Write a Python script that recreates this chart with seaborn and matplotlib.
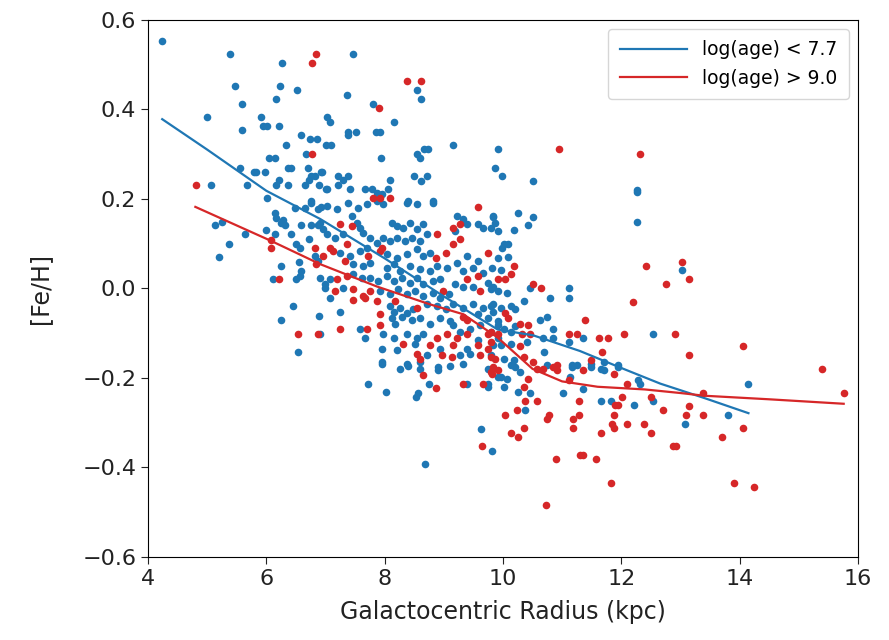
import numpy as np
import pandas as pd
import matplotlib
matplotlib.use("Agg")
import matplotlib.pyplot as plt
import seaborn as sns

# ---- young population (log(age) < 7.7) scatter ----
young_r = [4.24,5.39,6.27,5.47,6.23,6.52,5.59,6.17,5.00,5.91,5.95,6.01,6.22,5.59,6.59,6.74,6.86,6.34,7.01,6.67,
           6.05,6.15,5.56,6.37,6.42,6.71,5.79,5.83,5.98,6.93,6.76,6.83,6.72,6.22,5.07,5.68,6.17,6.37,6.66,6.89,
           7.01,6.01,6.76,
           7.47,8.55,8.62,7.37,7.81,7.03,7.08,8.16,7.38,7.52,7.38,7.86,7.93,7.10,9.16,9.92,7.94,8.55,8.67,8.74,8.60,
           9.87,6.94,7.21,7.38,7.30,8.09,8.50,8.72,8.62,7.21,7.03,7.42,7.67,7.79,7.87,7.96,8.06,8.40,8.82,
           9.99,10.51,12.27,
           5.13,5.25,5.37,5.20,5.64,6.00,6.15,6.15,6.17,6.25,6.32,6.28,6.49,6.66,6.76,6.88,6.93,6.59,6.76,6.88,6.96,
           6.42,6.50,6.57,6.72,6.83,6.88,6.56,6.25,6.59,6.57,6.50,6.12,6.99,6.45,6.89,6.25,6.54,
           7.03,7.20,7.38,7.55,7.71,7.87,7.98,8.38,8.55,8.81,9.23,9.33,9.84,7.45,7.54,7.59,7.64,8.13,8.21,8.31,8.43,
           8.55,8.65,6.91,9.40,9.57,9.67,9.19,9.91,7.03,7.16,7.30,7.76,7.87,7.98,8.09,8.21,8.35,8.47,8.60,8.72,9.79,
           7.25,7.42,7.59,7.71,8.04,8.21,8.38,8.55,8.65,8.77,9.40,9.57,9.91,7.47,7.64,7.76,8.04,8.15,8.26,8.43,8.60,
           8.77,8.89,9.06,9.23,9.33,9.50,9.67,9.82,6.91,7.08,7.47,7.62,7.76,7.89,8.04,8.15,8.30,8.43,8.55,8.65,8.82,
           8.94,9.19,9.33,9.50,9.74,9.84,6.99,7.30,7.93,8.09,8.23,8.38,8.52,8.65,8.81,8.94,9.08,7.08,8.09,8.15,8.26,
           8.38,8.48,8.72,8.89,9.03,9.16,9.33,9.50,9.67,9.84,9.57,9.74,9.84,9.91,7.25,8.13,8.18,8.30,8.47,8.60,8.77,
           8.94,9.11,9.16,9.28,9.45,9.62,9.79,7.59,7.98,8.15,8.38,8.55,8.65,9.57,9.91,7.67,6.91,8.52,8.94,9.40,9.84,
           7.96,8.21,8.72,9.28,9.45,7.96,8.38,8.60,8.91,9.33,8.26,
           12.27,12.27,10.26,10.51,10.43,10.19,9.84,9.87,10.01,10.09,9.99,10.09,9.96,10.45,11.11,11.12,10.80,9.79,
           9.92,10.07,10.36,9.79,9.96,10.13,10.21,10.63,10.75,9.91,10.01,10.13,10.21,10.85,12.53,10.68,10.85,11.36,
           11.11,9.96,10.13,10.41,10.70,9.79,10.01,10.18,10.75,11.17,11.26,11.48,11.70,11.94,
           13.02,
           7.96,8.40,8.60,8.91,9.11,8.75,7.72,8.03,8.53,8.57,9.40,9.74,9.75,9.74,9.91,9.63,9.82,8.69,
           9.96,10.07,10.01,10.26,10.13,10.21,10.29,10.46,11.17,11.14,11.48,11.65,11.70,11.94,11.36,11.02,12.29,
           12.32,10.38,11.65,11.83,12.21,12.53,
           14.15,13.07,13.80]
young_feh = [0.553,0.524,0.503,0.452,0.452,0.443,0.413,0.422,0.382,0.382,0.362,0.362,0.362,0.353,0.342,0.333,0.333,
             0.321,0.321,0.301,0.292,0.292,0.270,0.270,0.270,0.270,0.261,0.261,0.261,0.261,0.252,0.252,0.243,0.243,
             0.231,0.231,0.231,0.231,0.231,0.231,0.222,0.202,0.195,
             0.524,0.443,0.422,0.431,0.413,0.382,0.371,0.371,0.350,0.350,0.342,0.350,0.350,0.321,0.321,0.312,0.292,
             0.301,0.312,0.312,0.292,0.270,0.261,0.252,0.252,0.243,0.243,0.252,0.252,0.240,0.231,0.222,0.222,0.222,
             0.222,0.213,0.211,0.222,0.195,0.195,
             0.252,0.240,0.220,
             0.142,0.148,0.099,0.070,0.121,0.130,0.121,0.169,0.157,0.146,0.142,0.153,0.180,0.180,0.191,0.178,0.182,
             0.142,0.142,0.142,0.133,0.121,0.099,0.090,0.110,0.072,0.061,0.058,0.049,0.038,0.027,0.020,0.020,0.009,
             -0.040,-0.061,-0.070,-0.142,
             0.184,0.178,0.191,0.180,0.189,0.196,0.189,0.191,0.189,0.191,0.162,0.155,0.162,0.162,0.146,0.135,0.124,
             0.146,0.139,0.135,0.146,0.133,0.144,0.146,0.144,0.144,0.135,0.128,0.128,0.121,0.112,0.121,0.112,0.101,
             0.112,0.106,0.112,0.106,0.112,0.106,0.121,0.135,
             0.079,0.072,0.083,0.090,0.076,0.067,0.076,0.088,0.072,0.079,0.072,0.061,0.067,0.054,0.049,0.056,0.045,
             0.054,0.038,0.049,0.043,0.038,0.049,0.045,0.056,0.038,0.045,0.034,0.045,0.022,0.020,0.031,0.022,0.022,
             0.016,0.027,0.016,0.022,0.011,0.022,0.009,0.016,0.020,0.009,0.004,0.004,0.011,0.004,0.000,0.000,-0.007,
             -0.013,-0.002,-0.013,-0.007,-0.018,-0.011,-0.022,-0.013,-0.022,-0.040,-0.052,-0.045,-0.056,-0.047,
             -0.036,-0.040,-0.047,-0.036,-0.045,-0.036,-0.045,-0.036,-0.058,-0.067,-0.052,-0.074,-0.052,-0.067,
             -0.079,-0.063,-0.070,-0.067,-0.079,-0.067,-0.074,-0.081,-0.097,-0.090,-0.081,-0.097,-0.090,-0.103,
             -0.112,-0.101,-0.112,-0.103,-0.115,-0.112,-0.112,-0.103,-0.124,-0.135,-0.135,-0.126,-0.135,-0.137,
             -0.148,-0.148,-0.146,-0.169,-0.169,-0.164,-0.175,-0.169,-0.180,
             0.216,0.148,0.169,0.160,0.142,0.130,0.160,0.146,0.099,0.099,0.090,0.070,0.040,0.000,0.000,-0.022,-0.022,
             -0.002,-0.007,-0.011,-0.029,-0.040,-0.045,-0.040,-0.047,-0.070,-0.063,-0.081,-0.090,-0.097,-0.085,
             -0.090,-0.103,-0.112,-0.112,-0.112,-0.119,-0.126,-0.124,-0.119,-0.142,-0.148,-0.157,-0.160,-0.171,
             -0.171,-0.171,-0.169,-0.164,-0.171,
             0.040,
             -0.164,-0.173,-0.180,-0.182,-0.173,-0.213,-0.213,-0.231,-0.243,-0.234,-0.213,-0.220,-0.213,-0.180,
             -0.198,-0.315,-0.364,-0.393,
             -0.198,-0.202,-0.220,-0.231,-0.171,-0.175,-0.187,-0.234,-0.175,-0.198,-0.175,-0.180,-0.182,-0.175,
             -0.225,-0.234,-0.204,-0.213,-0.272,-0.252,-0.252,-0.261,-0.252,
             -0.213,-0.303,-0.283]

# ---- old population (log(age) > 9.0) scatter ----
old_r = [6.84,6.77,6.77,4.81,8.38,8.62,7.91,8.09,10.94,12.31,
         6.08,6.08,6.83,6.96,6.84,6.22,6.54,6.88,
         7.81,7.93,9.57,7.25,7.45,9.16,9.28,8.89,9.28,9.16,7.08,7.13,7.37,7.96,7.93,9.03,9.75,7.33,7.72,8.86,
         9.40,9.57,7.20,7.37,8.99,9.62,7.16,7.47,7.64,7.76,8.55,7.47,7.67,7.87,8.18,9.33,9.40,7.93,7.25,7.71,
         7.93,8.89,9.06,9.23,9.40,9.74,8.31,8.77,9.16,9.57,9.74,8.55,8.60,8.97,9.14,9.62,9.79,9.87,9.84,
         10.18,9.91,10.04,10.13,12.41,12.76,10.50,10.65,12.19,10.04,10.09,10.29,10.43,9.79,9.91,11.39,12.04,
         10.33,10.46,11.11,11.26,11.63,11.77,9.79,10.29,11.68,10.35,10.51,10.92,11.48,
         13.02,13.14,12.90,13.15,14.05,15.39,
         8.65,8.86,9.33,9.67,9.82,9.91,9.65,
         9.79,10.35,10.43,10.58,10.68,10.85,10.92,11.11,11.36,11.87,12.10,10.04,10.24,10.38,10.58,11.28,11.90,
         11.94,12.02,12.51,12.71,10.13,10.26,10.36,10.75,10.77,11.19,11.19,11.29,11.65,11.87,11.85,11.88,12.09,
         12.39,12.51,12.87,10.89,11.31,11.36,11.58,11.83,10.72,
         15.76,13.39,13.14,13.09,13.39,14.05,13.70,12.92,13.90,14.24]
old_feh = [0.524,0.503,0.301,0.231,0.463,0.463,0.402,0.202,0.312,0.301,
           0.108,0.090,0.090,0.072,0.054,0.020,-0.103,-0.103,
           0.202,0.202,0.182,0.144,0.139,0.135,0.144,0.121,0.110,0.099,0.090,0.083,0.099,0.090,0.083,0.079,0.079,
           0.061,0.072,0.067,0.020,0.027,0.020,0.027,-0.007,-0.007,-0.007,-0.002,-0.018,-0.007,-0.045,-0.025,
           -0.022,-0.029,-0.029,-0.063,-0.070,-0.058,-0.090,-0.090,-0.081,-0.112,-0.103,-0.112,-0.103,-0.103,
           -0.124,-0.126,-0.126,-0.126,-0.135,-0.146,-0.157,-0.148,-0.153,-0.148,-0.153,-0.157,-0.175,
           0.049,0.020,0.020,0.031,0.049,0.009,0.009,0.000,-0.031,-0.056,-0.067,-0.079,-0.081,-0.097,-0.103,
           -0.070,-0.103,-0.101,-0.103,-0.103,-0.103,-0.112,-0.112,-0.119,-0.130,-0.142,-0.153,-0.164,-0.171,
           -0.160,
           0.058,0.020,-0.103,-0.150,-0.130,-0.180,
           -0.193,-0.222,-0.213,-0.213,-0.191,-0.182,-0.353,
           -0.187,-0.220,-0.202,-0.180,-0.180,-0.175,-0.182,-0.204,-0.182,-0.191,-0.213,-0.283,-0.272,-0.252,
           -0.252,-0.252,-0.261,-0.261,-0.243,-0.243,-0.272,-0.324,-0.333,-0.312,-0.292,-0.283,-0.292,-0.312,
           -0.283,-0.324,-0.283,-0.303,-0.312,-0.303,-0.303,-0.324,-0.353,-0.382,-0.373,-0.373,-0.382,-0.434,
           -0.485,
           -0.233,-0.233,-0.263,-0.283,-0.283,-0.312,-0.333,-0.353,-0.434,-0.445]

# ---- running-mean trend lines ----
young_line_r = [4.24, 5.0, 6.0, 6.91, 8.0, 9.0, 9.91, 10.51, 11.3, 12.0, 12.66, 13.4, 14.15]
young_line_feh = [0.378, 0.31, 0.218, 0.155, 0.067, -0.018, -0.092, -0.105, -0.14, -0.178, -0.213, -0.245, -0.279]
old_line_r = [4.8, 6.08, 6.91, 7.87, 8.77, 9.33, 9.91, 10.5, 11.0, 11.6, 12.4, 13.0, 13.4, 14.5, 15.76]
old_line_feh = [0.182, 0.106, 0.054, 0.004, -0.036, -0.058, -0.11, -0.18, -0.208, -0.22, -0.226, -0.234, -0.24, -0.248, -0.258]

labels = ["log(age) < 7.7", "log(age) > 9.0"]
x_ticks = [4, 6, 8, 10, 12, 14, 16]
y_ticks = [-0.6, -0.4, -0.2, 0.0, 0.2, 0.4, 0.6]

BLUE = "#1f77b4"
RED = "#d62728"

young = pd.DataFrame({"R": young_r, "FeH": young_feh})
old = pd.DataFrame({"R": old_r, "FeH": old_feh})
young_line = pd.DataFrame({"R": young_line_r, "FeH": young_line_feh})
old_line = pd.DataFrame({"R": old_line_r, "FeH": old_line_feh})

plt.rcParams["font.family"] = ["DejaVu Sans"]
fig = plt.figure(figsize=(8.89, 6.4), dpi=100)
ax = fig.add_axes([0.1665, 0.130, 0.7985, 0.839])

sns.scatterplot(data=young, x="R", y="FeH", color=BLUE, s=30, linewidth=0, ax=ax, legend=False, zorder=2)
sns.scatterplot(data=old, x="R", y="FeH", color=RED, s=30, linewidth=0, ax=ax, legend=False, zorder=2)
sns.lineplot(data=young_line, x="R", y="FeH", color=BLUE, linewidth=1.6, ax=ax, label=labels[0], zorder=3)
sns.lineplot(data=old_line, x="R", y="FeH", color=RED, linewidth=1.6, ax=ax, label=labels[1], zorder=3)

ax.set_xlim(4, 16)
ax.set_ylim(-0.6, 0.6)
ax.set_xticks(x_ticks)
ax.set_yticks(y_ticks)
ax.set_xticklabels([str(t) for t in x_ticks])
ax.set_yticklabels(["\u22120.6", "\u22120.4", "\u22120.2", "0.0", "0.2", "0.4", "0.6"])
ax.tick_params(labelsize=16, length=5, colors="#222222")
ax.set_xlabel("Galactocentric Radius (kpc)", fontsize=17, labelpad=8, color="#222222")
ax.set_ylabel("[Fe/H]", fontsize=17, labelpad=22, color="#222222")
ax.legend(loc="upper right", fontsize=13.5, frameon=True, handlelength=3.6, borderpad=0.6)

fig.savefig("out.png", dpi=100)
